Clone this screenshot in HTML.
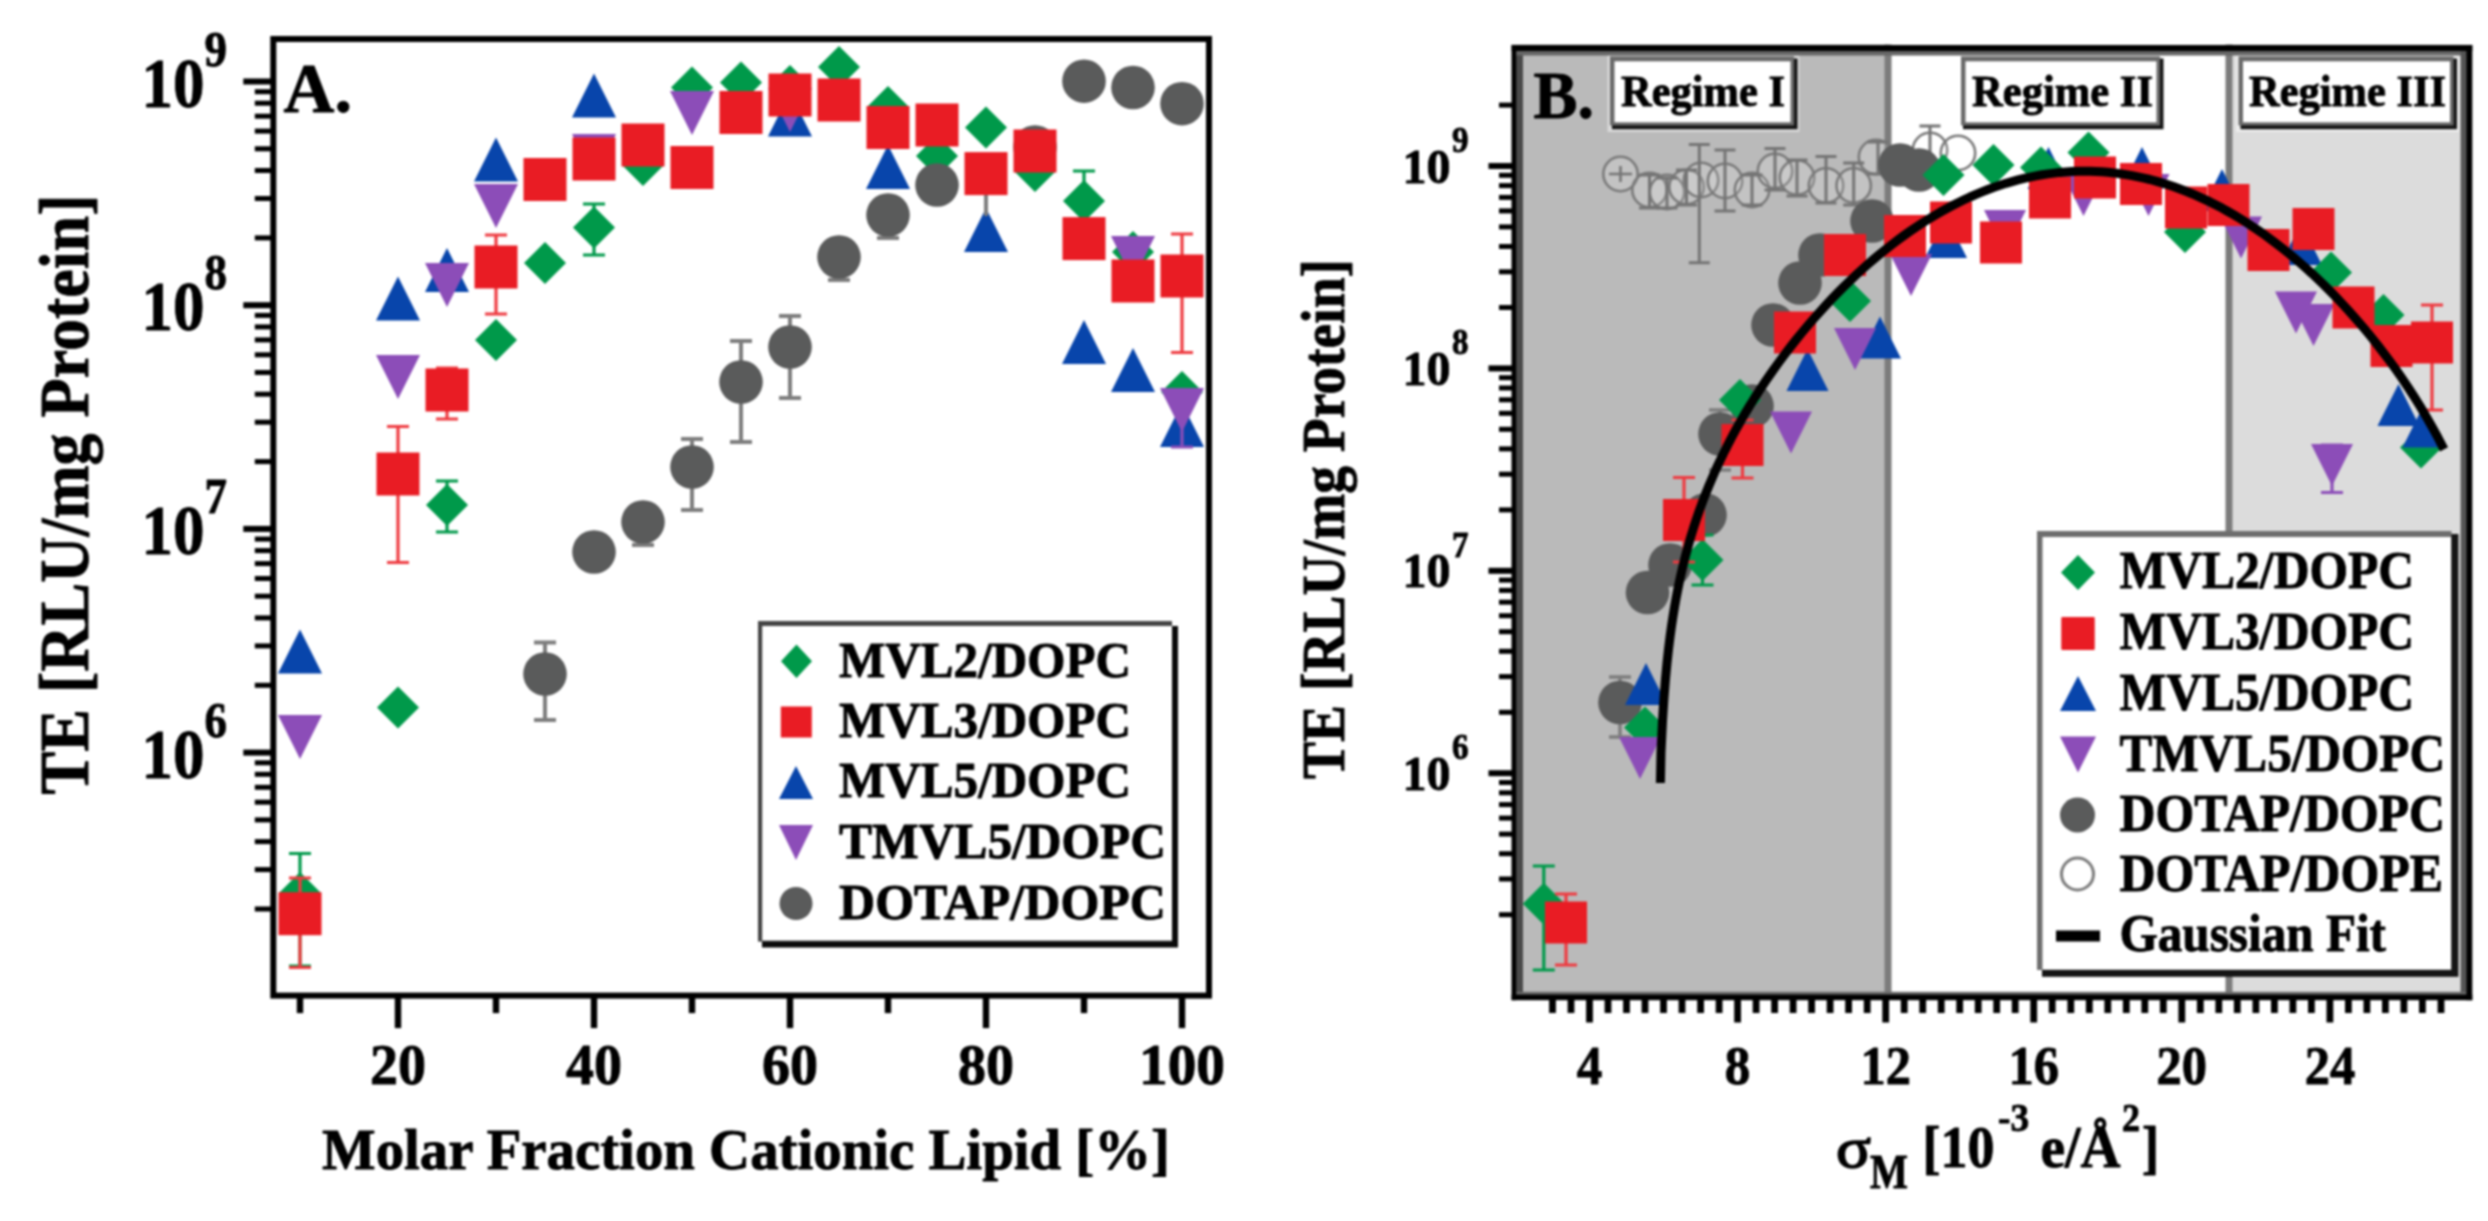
<!DOCTYPE html>
<html lang="en">
<head>
<meta charset="utf-8">
<title>Transfection efficiency of MVL/DOPC lipid mixtures</title>
<style>
html,body{margin:0;padding:0;background:#fff;}
body{width:2488px;height:1221px;overflow:hidden;}
svg{display:block;filter:blur(1.25px);}
svg text{font-family:"Liberation Serif","DejaVu Serif",serif;font-weight:bold;fill:#000;stroke:#000;stroke-width:0.9px;stroke-linejoin:round;}
</style>
</head>
<body>
<svg width="2488" height="1221" viewBox="0 0 2488 1221">
<rect x="0" y="0" width="2488" height="1221" fill="#fff"/>
<g id="plotA">
<rect x="254.8" y="906.5" width="18.5" height="5" fill="#000"/>
<rect x="254.8" y="867.1" width="18.5" height="5" fill="#000"/>
<rect x="254.8" y="839.1" width="18.5" height="5" fill="#000"/>
<rect x="254.8" y="817.4" width="18.5" height="5" fill="#000"/>
<rect x="254.8" y="799.7" width="18.5" height="5" fill="#000"/>
<rect x="254.8" y="784.8" width="18.5" height="5" fill="#000"/>
<rect x="254.8" y="771.8" width="18.5" height="5" fill="#000"/>
<rect x="254.8" y="760.3" width="18.5" height="5" fill="#000"/>
<rect x="243.3" y="749.6" width="30" height="6" fill="#000"/>
<rect x="254.8" y="682.8" width="18.5" height="5" fill="#000"/>
<rect x="254.8" y="643.4" width="18.5" height="5" fill="#000"/>
<rect x="254.8" y="615.4" width="18.5" height="5" fill="#000"/>
<rect x="254.8" y="593.7" width="18.5" height="5" fill="#000"/>
<rect x="254.8" y="576" width="18.5" height="5" fill="#000"/>
<rect x="254.8" y="561.1" width="18.5" height="5" fill="#000"/>
<rect x="254.8" y="548.1" width="18.5" height="5" fill="#000"/>
<rect x="254.8" y="536.6" width="18.5" height="5" fill="#000"/>
<rect x="243.3" y="525.9" width="30" height="6" fill="#000"/>
<rect x="254.8" y="459.1" width="18.5" height="5" fill="#000"/>
<rect x="254.8" y="419.7" width="18.5" height="5" fill="#000"/>
<rect x="254.8" y="391.7" width="18.5" height="5" fill="#000"/>
<rect x="254.8" y="370" width="18.5" height="5" fill="#000"/>
<rect x="254.8" y="352.3" width="18.5" height="5" fill="#000"/>
<rect x="254.8" y="337.4" width="18.5" height="5" fill="#000"/>
<rect x="254.8" y="324.4" width="18.5" height="5" fill="#000"/>
<rect x="254.8" y="312.9" width="18.5" height="5" fill="#000"/>
<rect x="243.3" y="302.2" width="30" height="6" fill="#000"/>
<rect x="254.8" y="235.4" width="18.5" height="5" fill="#000"/>
<rect x="254.8" y="196" width="18.5" height="5" fill="#000"/>
<rect x="254.8" y="168" width="18.5" height="5" fill="#000"/>
<rect x="254.8" y="146.3" width="18.5" height="5" fill="#000"/>
<rect x="254.8" y="128.6" width="18.5" height="5" fill="#000"/>
<rect x="254.8" y="113.7" width="18.5" height="5" fill="#000"/>
<rect x="254.8" y="100.7" width="18.5" height="5" fill="#000"/>
<rect x="254.8" y="89.2" width="18.5" height="5" fill="#000"/>
<rect x="243.3" y="78.5" width="30" height="6" fill="#000"/>
<rect x="296.8" y="995.6" width="6.4" height="17.5" fill="#000"/>
<rect x="394.8" y="995.6" width="6.4" height="32.5" fill="#000"/>
<rect x="492.8" y="995.6" width="6.4" height="17.5" fill="#000"/>
<rect x="590.8" y="995.6" width="6.4" height="32.5" fill="#000"/>
<rect x="688.8" y="995.6" width="6.4" height="17.5" fill="#000"/>
<rect x="786.8" y="995.6" width="6.4" height="32.5" fill="#000"/>
<rect x="884.8" y="995.6" width="6.4" height="17.5" fill="#000"/>
<rect x="982.8" y="995.6" width="6.4" height="32.5" fill="#000"/>
<rect x="1080.8" y="995.6" width="6.4" height="17.5" fill="#000"/>
<rect x="1178.8" y="995.6" width="6.4" height="32.5" fill="#000"/>
</g>
<g id="dataA">
<path d="M300 853.5V966M289 853.5H311M289 966H311" stroke="#00994a" stroke-width="3.2" fill="none"/>
<path d="M447 481V532M436 481H458M436 532H458" stroke="#00994a" stroke-width="3.2" fill="none"/>
<path d="M594 204V255M583 204H605M583 255H605" stroke="#00994a" stroke-width="3.2" fill="none"/>
<path d="M1084 171V231M1073 171H1095M1073 231H1095" stroke="#00994a" stroke-width="3.2" fill="none"/>
<polygon points="300,872 321,893 300,914 279,893" fill="#00994a"/>
<polygon points="398,686.5 419,707.5 398,728.5 377,707.5" fill="#00994a"/>
<polygon points="447,484 468,505 447,526 426,505" fill="#00994a"/>
<polygon points="496,319 517,340 496,361 475,340" fill="#00994a"/>
<polygon points="545,242 566,263 545,284 524,263" fill="#00994a"/>
<polygon points="594,206.5 615,227.5 594,248.5 573,227.5" fill="#00994a"/>
<polygon points="643,144 664,165 643,186 622,165" fill="#00994a"/>
<polygon points="692,66.5 713,87.5 692,108.5 671,87.5" fill="#00994a"/>
<polygon points="741,61.5 762,82.5 741,103.5 720,82.5" fill="#00994a"/>
<polygon points="790,65 811,86 790,107 769,86" fill="#00994a"/>
<polygon points="839,46 860,67 839,88 818,67" fill="#00994a"/>
<polygon points="888,86 909,107 888,128 867,107" fill="#00994a"/>
<polygon points="937,135 958,156 937,177 916,156" fill="#00994a"/>
<polygon points="986,106.4 1007,127.4 986,148.4 965,127.4" fill="#00994a"/>
<polygon points="1035,150 1056,171 1035,192 1014,171" fill="#00994a"/>
<polygon points="1084,180 1105,201 1084,222 1063,201" fill="#00994a"/>
<polygon points="1133,231 1154,252 1133,273 1112,252" fill="#00994a"/>
<polygon points="1182,371 1203,392 1182,413 1161,392" fill="#00994a"/>
<polygon points="300,629.5 322,673.5 278,673.5" fill="#0845ab"/>
<polygon points="398,276.5 420,320.5 376,320.5" fill="#0845ab"/>
<polygon points="447,248 469,292 425,292" fill="#0845ab"/>
<polygon points="496,137.5 518,181.5 474,181.5" fill="#0845ab"/>
<polygon points="594,73.5 616,117.5 572,117.5" fill="#0845ab"/>
<polygon points="790,92.5 812,136.5 768,136.5" fill="#0845ab"/>
<polygon points="888,145 910,189 866,189" fill="#0845ab"/>
<polygon points="986,208 1008,252 964,252" fill="#0845ab"/>
<polygon points="1084,320 1106,364 1062,364" fill="#0845ab"/>
<polygon points="1133,348 1155,392 1111,392" fill="#0845ab"/>
<polygon points="1182,403 1204,447 1160,447" fill="#0845ab"/>
<path d="M1182 390V447M1171 390H1193M1171 447H1193" stroke="#8c4db8" stroke-width="3.2" fill="none"/>
<polygon points="278,715 322,715 300,759" fill="#8c4db8"/>
<polygon points="376,355 420,355 398,399" fill="#8c4db8"/>
<polygon points="425,263 469,263 447,307" fill="#8c4db8"/>
<polygon points="474,184 518,184 496,228" fill="#8c4db8"/>
<polygon points="572,134 616,134 594,178" fill="#8c4db8"/>
<polygon points="670,91 714,91 692,135" fill="#8c4db8"/>
<polygon points="768,88 812,88 790,132" fill="#8c4db8"/>
<polygon points="1111,236 1155,236 1133,280" fill="#8c4db8"/>
<polygon points="1160,388 1204,388 1182,432" fill="#8c4db8"/>
<path d="M545 642.5V720M534 642.5H556M534 720H556" stroke="#7d7d7d" stroke-width="4" fill="none"/>
<path d="M643 505V545M632 505H654M632 545H654" stroke="#7d7d7d" stroke-width="4" fill="none"/>
<path d="M692 439V510M681 439H703M681 510H703" stroke="#7d7d7d" stroke-width="4" fill="none"/>
<path d="M741 341V442M730 341H752M730 442H752" stroke="#7d7d7d" stroke-width="4" fill="none"/>
<path d="M790 316V398M779 316H801M779 398H801" stroke="#7d7d7d" stroke-width="4" fill="none"/>
<path d="M839 240V280M828 240H850M828 280H850" stroke="#7d7d7d" stroke-width="4" fill="none"/>
<path d="M888 198V238M877 198H899M877 238H899" stroke="#7d7d7d" stroke-width="4" fill="none"/>
<rect x="984" y="190" width="4" height="26" fill="#7d7d7d"/>
<circle cx="545" cy="674" r="21.8" fill="#5a5b5b"/>
<circle cx="594" cy="552" r="21.8" fill="#5a5b5b"/>
<circle cx="643" cy="522" r="21.8" fill="#5a5b5b"/>
<circle cx="692" cy="467" r="21.8" fill="#5a5b5b"/>
<circle cx="741" cy="382" r="21.8" fill="#5a5b5b"/>
<circle cx="790" cy="347" r="21.8" fill="#5a5b5b"/>
<circle cx="839" cy="257" r="21.8" fill="#5a5b5b"/>
<circle cx="888" cy="215" r="21.8" fill="#5a5b5b"/>
<circle cx="937" cy="185" r="21.8" fill="#5a5b5b"/>
<circle cx="1035" cy="147" r="21.8" fill="#5a5b5b"/>
<circle cx="1084" cy="81.2" r="21.8" fill="#5a5b5b"/>
<circle cx="1133" cy="87.5" r="21.8" fill="#5a5b5b"/>
<circle cx="1182" cy="103.7" r="21.8" fill="#5a5b5b"/>
<path d="M300 878V967.5M289 878H311M289 967.5H311" stroke="#ee3a40" stroke-width="3.2" fill="none"/>
<path d="M398 426.5V562.5M387 426.5H409M387 562.5H409" stroke="#ee3a40" stroke-width="3.2" fill="none"/>
<path d="M447 368V419M436 368H458M436 419H458" stroke="#ee3a40" stroke-width="3.2" fill="none"/>
<path d="M496 235V314M485 235H507M485 314H507" stroke="#ee3a40" stroke-width="3.2" fill="none"/>
<path d="M1182 234V352.5M1171 234H1193M1171 352.5H1193" stroke="#ee3a40" stroke-width="3.2" fill="none"/>
<rect x="278.5" y="892.2" width="43" height="43" fill="#e91c24"/>
<rect x="376.5" y="452.5" width="43" height="43" fill="#e91c24"/>
<rect x="425.5" y="368.5" width="43" height="43" fill="#e91c24"/>
<rect x="474.5" y="245.5" width="43" height="43" fill="#e91c24"/>
<rect x="523.5" y="158" width="43" height="43" fill="#e91c24"/>
<rect x="572.5" y="137.5" width="43" height="43" fill="#e91c24"/>
<rect x="621.5" y="123.5" width="43" height="43" fill="#e91c24"/>
<rect x="670.5" y="146" width="43" height="43" fill="#e91c24"/>
<rect x="719.5" y="91" width="43" height="43" fill="#e91c24"/>
<rect x="768.5" y="73.5" width="43" height="43" fill="#e91c24"/>
<rect x="817.5" y="78.5" width="43" height="43" fill="#e91c24"/>
<rect x="866.5" y="106" width="43" height="43" fill="#e91c24"/>
<rect x="915.5" y="103.5" width="43" height="43" fill="#e91c24"/>
<rect x="964.5" y="152.1" width="43" height="43" fill="#e91c24"/>
<rect x="1013.5" y="129.5" width="43" height="43" fill="#e91c24"/>
<rect x="1062.5" y="217.1" width="43" height="43" fill="#e91c24"/>
<rect x="1111.5" y="259.5" width="43" height="43" fill="#e91c24"/>
<rect x="1160.5" y="254.5" width="43" height="43" fill="#e91c24"/>
</g>
<rect x="273.3" y="39" width="935.7" height="956.6" fill="none" stroke="#000" stroke-width="6"/>
<g id="legendA">
<rect x="762" y="626" width="416" height="321.5" fill="#0a0a0a"/>
<rect x="758" y="621" width="414" height="320.6" fill="#444"/>
<rect x="762.2" y="626" width="409.8" height="314.6" fill="#fff"/>
<polygon points="796.5,644.5 812,661.3 796.5,678 781,661.3" fill="#00994a"/>
<rect x="780.8" y="706.5" width="31" height="31" fill="#e91c24"/>
<polygon points="796,766 813,799 779,799" fill="#0845ab"/>
<polygon points="779,825 813,825 796,860" fill="#8c4db8"/>
<circle cx="796" cy="903.5" r="16.5" fill="#5a5b5b"/>
<text x="839" y="677.4" font-size="51" text-anchor="start" textLength="292" lengthAdjust="spacingAndGlyphs">MVL2/DOPC</text>
<text x="839" y="737.4" font-size="51" text-anchor="start" textLength="292" lengthAdjust="spacingAndGlyphs">MVL3/DOPC</text>
<text x="839" y="797.4" font-size="51" text-anchor="start" textLength="292" lengthAdjust="spacingAndGlyphs">MVL5/DOPC</text>
<text x="839" y="858.4" font-size="51" text-anchor="start" textLength="327" lengthAdjust="spacingAndGlyphs">TMVL5/DOPC</text>
<text x="839" y="919.4" font-size="51" text-anchor="start" textLength="327" lengthAdjust="spacingAndGlyphs">DOTAP/DOPC</text>
</g>
<g id="labelsA">
<text x="283.5" y="112" font-size="70.5" text-anchor="start" textLength="68.5" lengthAdjust="spacingAndGlyphs">A.</text>
<text x="141.5" y="106.5" font-size="69.5" text-anchor="start" textLength="63" lengthAdjust="spacingAndGlyphs">10</text>
<text x="204.5" y="65.5" font-size="50.5" text-anchor="start" textLength="22.5" lengthAdjust="spacingAndGlyphs">9</text>
<text x="141.5" y="330.2" font-size="69.5" text-anchor="start" textLength="63" lengthAdjust="spacingAndGlyphs">10</text>
<text x="204.5" y="289.2" font-size="50.5" text-anchor="start" textLength="22.5" lengthAdjust="spacingAndGlyphs">8</text>
<text x="141.5" y="553.9" font-size="69.5" text-anchor="start" textLength="63" lengthAdjust="spacingAndGlyphs">10</text>
<text x="204.5" y="512.9" font-size="50.5" text-anchor="start" textLength="22.5" lengthAdjust="spacingAndGlyphs">7</text>
<text x="141.5" y="777.6" font-size="69.5" text-anchor="start" textLength="63" lengthAdjust="spacingAndGlyphs">10</text>
<text x="204.5" y="736.6" font-size="50.5" text-anchor="start" textLength="22.5" lengthAdjust="spacingAndGlyphs">6</text>
<text x="398" y="1084" font-size="57" text-anchor="middle" textLength="56" lengthAdjust="spacingAndGlyphs">20</text>
<text x="594" y="1084" font-size="57" text-anchor="middle" textLength="56" lengthAdjust="spacingAndGlyphs">40</text>
<text x="790" y="1084" font-size="57" text-anchor="middle" textLength="56" lengthAdjust="spacingAndGlyphs">60</text>
<text x="986" y="1084" font-size="57" text-anchor="middle" textLength="56" lengthAdjust="spacingAndGlyphs">80</text>
<text x="1182" y="1084" font-size="57" text-anchor="middle" textLength="86" lengthAdjust="spacingAndGlyphs">100</text>
<text x="322" y="1169" font-size="57" text-anchor="start" textLength="848" lengthAdjust="spacingAndGlyphs">Molar Fraction Cationic Lipid [%]</text>
<text transform="translate(88 794.5) rotate(-90)" font-size="69" textLength="600" lengthAdjust="spacingAndGlyphs">TE [RLU/mg Protein]</text>
</g>
<g id="plotB">
<rect x="1511.5" y="44.5" width="960.5" height="955.5" fill="#fff"/>
<rect x="1511.5" y="44.5" width="376.5" height="955.5" fill="#bababa"/>
<rect x="2229" y="44.5" width="243" height="955.5" fill="#dcdcdc"/>
<rect x="1884.5" y="44.5" width="7" height="955.5" fill="#7c7c7c"/>
<rect x="2225.5" y="44.5" width="7" height="955.5" fill="#7c7c7c"/>
<rect x="1499" y="912.2" width="13" height="5" fill="#000"/>
<rect x="1499" y="876.5" width="13" height="5" fill="#000"/>
<rect x="1499" y="851.2" width="13" height="5" fill="#000"/>
<rect x="1499" y="831.6" width="13" height="5" fill="#000"/>
<rect x="1499" y="815.6" width="13" height="5" fill="#000"/>
<rect x="1499" y="802.1" width="13" height="5" fill="#000"/>
<rect x="1499" y="790.3" width="13" height="5" fill="#000"/>
<rect x="1499" y="780" width="13" height="5" fill="#000"/>
<rect x="1488.5" y="770.2" width="25" height="6" fill="#000"/>
<rect x="1499" y="709.8" width="13" height="5" fill="#000"/>
<rect x="1499" y="674.1" width="13" height="5" fill="#000"/>
<rect x="1499" y="648.8" width="13" height="5" fill="#000"/>
<rect x="1499" y="629.2" width="13" height="5" fill="#000"/>
<rect x="1499" y="613.2" width="13" height="5" fill="#000"/>
<rect x="1499" y="599.7" width="13" height="5" fill="#000"/>
<rect x="1499" y="587.9" width="13" height="5" fill="#000"/>
<rect x="1499" y="577.6" width="13" height="5" fill="#000"/>
<rect x="1488.5" y="567.8" width="25" height="6" fill="#000"/>
<rect x="1499" y="507.4" width="13" height="5" fill="#000"/>
<rect x="1499" y="471.7" width="13" height="5" fill="#000"/>
<rect x="1499" y="446.4" width="13" height="5" fill="#000"/>
<rect x="1499" y="426.8" width="13" height="5" fill="#000"/>
<rect x="1499" y="410.8" width="13" height="5" fill="#000"/>
<rect x="1499" y="397.3" width="13" height="5" fill="#000"/>
<rect x="1499" y="385.5" width="13" height="5" fill="#000"/>
<rect x="1499" y="375.2" width="13" height="5" fill="#000"/>
<rect x="1488.5" y="365.4" width="25" height="6" fill="#000"/>
<rect x="1499" y="305" width="13" height="5" fill="#000"/>
<rect x="1499" y="269.3" width="13" height="5" fill="#000"/>
<rect x="1499" y="244" width="13" height="5" fill="#000"/>
<rect x="1499" y="224.4" width="13" height="5" fill="#000"/>
<rect x="1499" y="208.4" width="13" height="5" fill="#000"/>
<rect x="1499" y="194.9" width="13" height="5" fill="#000"/>
<rect x="1499" y="183.1" width="13" height="5" fill="#000"/>
<rect x="1499" y="172.8" width="13" height="5" fill="#000"/>
<rect x="1488.5" y="163" width="25" height="6" fill="#000"/>
<rect x="1499" y="102.6" width="13" height="5" fill="#000"/>
<rect x="1549.1" y="999" width="6.8" height="14" fill="#000"/>
<rect x="1567.6" y="999" width="6.8" height="14" fill="#000"/>
<rect x="1586.1" y="999" width="6.8" height="23.5" fill="#000"/>
<rect x="1604.6" y="999" width="6.8" height="14" fill="#000"/>
<rect x="1623.1" y="999" width="6.8" height="14" fill="#000"/>
<rect x="1641.6" y="999" width="6.8" height="14" fill="#000"/>
<rect x="1660.1" y="999" width="6.8" height="14" fill="#000"/>
<rect x="1678.6" y="999" width="6.8" height="14" fill="#000"/>
<rect x="1697.2" y="999" width="6.8" height="14" fill="#000"/>
<rect x="1715.7" y="999" width="6.8" height="14" fill="#000"/>
<rect x="1734.2" y="999" width="6.8" height="23.5" fill="#000"/>
<rect x="1752.7" y="999" width="6.8" height="14" fill="#000"/>
<rect x="1771.2" y="999" width="6.8" height="14" fill="#000"/>
<rect x="1789.7" y="999" width="6.8" height="14" fill="#000"/>
<rect x="1808.2" y="999" width="6.8" height="14" fill="#000"/>
<rect x="1826.7" y="999" width="6.8" height="14" fill="#000"/>
<rect x="1845.2" y="999" width="6.8" height="14" fill="#000"/>
<rect x="1863.8" y="999" width="6.8" height="14" fill="#000"/>
<rect x="1882.3" y="999" width="6.8" height="23.5" fill="#000"/>
<rect x="1900.8" y="999" width="6.8" height="14" fill="#000"/>
<rect x="1919.3" y="999" width="6.8" height="14" fill="#000"/>
<rect x="1937.8" y="999" width="6.8" height="14" fill="#000"/>
<rect x="1956.3" y="999" width="6.8" height="14" fill="#000"/>
<rect x="1974.8" y="999" width="6.8" height="14" fill="#000"/>
<rect x="1993.3" y="999" width="6.8" height="14" fill="#000"/>
<rect x="2011.8" y="999" width="6.8" height="14" fill="#000"/>
<rect x="2030.3" y="999" width="6.8" height="23.5" fill="#000"/>
<rect x="2048.8" y="999" width="6.8" height="14" fill="#000"/>
<rect x="2067.4" y="999" width="6.8" height="14" fill="#000"/>
<rect x="2085.9" y="999" width="6.8" height="14" fill="#000"/>
<rect x="2104.4" y="999" width="6.8" height="14" fill="#000"/>
<rect x="2122.9" y="999" width="6.8" height="14" fill="#000"/>
<rect x="2141.4" y="999" width="6.8" height="14" fill="#000"/>
<rect x="2159.9" y="999" width="6.8" height="14" fill="#000"/>
<rect x="2178.4" y="999" width="6.8" height="23.5" fill="#000"/>
<rect x="2196.9" y="999" width="6.8" height="14" fill="#000"/>
<rect x="2215.4" y="999" width="6.8" height="14" fill="#000"/>
<rect x="2233.9" y="999" width="6.8" height="14" fill="#000"/>
<rect x="2252.5" y="999" width="6.8" height="14" fill="#000"/>
<rect x="2271" y="999" width="6.8" height="14" fill="#000"/>
<rect x="2289.5" y="999" width="6.8" height="14" fill="#000"/>
<rect x="2308" y="999" width="6.8" height="14" fill="#000"/>
<rect x="2326.5" y="999" width="6.8" height="23.5" fill="#000"/>
<rect x="2345" y="999" width="6.8" height="14" fill="#000"/>
<rect x="2363.5" y="999" width="6.8" height="14" fill="#000"/>
<rect x="2382" y="999" width="6.8" height="14" fill="#000"/>
<rect x="2400.5" y="999" width="6.8" height="14" fill="#000"/>
<rect x="2419" y="999" width="6.8" height="14" fill="#000"/>
<rect x="2437.6" y="999" width="6.8" height="14" fill="#000"/>
</g>
<g id="dataB">
<circle cx="1620.5" cy="174" r="17.2" fill="rgba(255,255,255,0.13)" stroke="#7a7a7a" stroke-width="2.6"/>
<circle cx="1649.5" cy="190" r="17.2" fill="rgba(255,255,255,0.13)" stroke="#7a7a7a" stroke-width="2.6"/>
<circle cx="1667" cy="192" r="17.2" fill="rgba(255,255,255,0.13)" stroke="#7a7a7a" stroke-width="2.6"/>
<circle cx="1686.5" cy="187" r="17.2" fill="rgba(255,255,255,0.13)" stroke="#7a7a7a" stroke-width="2.6"/>
<circle cx="1701" cy="180" r="17.2" fill="rgba(255,255,255,0.13)" stroke="#7a7a7a" stroke-width="2.6"/>
<circle cx="1725" cy="181" r="17.2" fill="rgba(255,255,255,0.13)" stroke="#7a7a7a" stroke-width="2.6"/>
<circle cx="1752" cy="190" r="17.2" fill="rgba(255,255,255,0.13)" stroke="#7a7a7a" stroke-width="2.6"/>
<circle cx="1775" cy="171" r="17.2" fill="rgba(255,255,255,0.13)" stroke="#7a7a7a" stroke-width="2.6"/>
<circle cx="1797" cy="177.5" r="17.2" fill="rgba(255,255,255,0.13)" stroke="#7a7a7a" stroke-width="2.6"/>
<circle cx="1826" cy="185.5" r="17.2" fill="rgba(255,255,255,0.13)" stroke="#7a7a7a" stroke-width="2.6"/>
<circle cx="1853.7" cy="185.5" r="17.2" fill="rgba(255,255,255,0.13)" stroke="#7a7a7a" stroke-width="2.6"/>
<circle cx="1876" cy="157" r="17.2" fill="rgba(255,255,255,0.13)" stroke="#7a7a7a" stroke-width="2.6"/>
<circle cx="1930" cy="150" r="17.2" fill="rgba(255,255,255,0.13)" stroke="#7a7a7a" stroke-width="2.6"/>
<circle cx="1958" cy="153" r="17.2" fill="rgba(255,255,255,0.13)" stroke="#7a7a7a" stroke-width="2.6"/>
<path d="M1699.3 144.5V262.7M1688.8 144.5H1709.8M1688.8 262.7H1709.8" stroke="#747474" stroke-width="3" fill="none"/>
<path d="M1725 150V211M1714.5 150H1735.5M1714.5 211H1735.5" stroke="#747474" stroke-width="3" fill="none"/>
<path d="M1649.5 175V208M1639 175H1660M1639 208H1660" stroke="#747474" stroke-width="3" fill="none"/>
<path d="M1667 178V208M1656.5 178H1677.5M1656.5 208H1677.5" stroke="#747474" stroke-width="3" fill="none"/>
<path d="M1686.5 170V205M1676 170H1697M1676 205H1697" stroke="#747474" stroke-width="3" fill="none"/>
<path d="M1752 175V205M1741.5 175H1762.5M1741.5 205H1762.5" stroke="#747474" stroke-width="3" fill="none"/>
<path d="M1775 148.6V190M1764.5 148.6H1785.5M1764.5 190H1785.5" stroke="#747474" stroke-width="3" fill="none"/>
<path d="M1797 160V196M1786.5 160H1807.5M1786.5 196H1807.5" stroke="#747474" stroke-width="3" fill="none"/>
<path d="M1826 156.6V203M1815.5 156.6H1836.5M1815.5 203H1836.5" stroke="#747474" stroke-width="3" fill="none"/>
<path d="M1853.7 163V205M1843.2 163H1864.2M1843.2 205H1864.2" stroke="#747474" stroke-width="3" fill="none"/>
<path d="M1878 142V174M1867.5 142H1888.5M1867.5 174H1888.5" stroke="#747474" stroke-width="3" fill="none"/>
<path d="M1930 126V175M1919.5 126H1940.5M1919.5 175H1940.5" stroke="#747474" stroke-width="3" fill="none"/>
<path d="M1609 174H1632M1620.5 166V182" stroke="#747474" stroke-width="2.6" fill="none"/>
<path d="M1620 677V737M1609 677H1631M1609 737H1631" stroke="#7d7d7d" stroke-width="3.5" fill="none"/>
<path d="M1720 410V470M1709 410H1731M1709 470H1731" stroke="#7d7d7d" stroke-width="3.5" fill="none"/>
<circle cx="1620" cy="702.5" r="21.8" fill="#5a5b5b"/>
<circle cx="1647.5" cy="592.5" r="21.8" fill="#5a5b5b"/>
<circle cx="1670" cy="565" r="21.8" fill="#5a5b5b"/>
<circle cx="1705" cy="515" r="21.8" fill="#5a5b5b"/>
<circle cx="1720" cy="434" r="21.8" fill="#5a5b5b"/>
<circle cx="1752" cy="406" r="21.8" fill="#5a5b5b"/>
<circle cx="1773" cy="325" r="21.8" fill="#5a5b5b"/>
<circle cx="1800" cy="283" r="21.8" fill="#5a5b5b"/>
<circle cx="1820" cy="255" r="21.8" fill="#5a5b5b"/>
<circle cx="1872" cy="221" r="21.8" fill="#5a5b5b"/>
<circle cx="1900" cy="165" r="21.8" fill="#5a5b5b"/>
<circle cx="1919" cy="170" r="21.8" fill="#5a5b5b"/>
<polygon points="1646,663 1667,705 1625,705" fill="#0845ab"/>
<polygon points="1807.5,349 1828.5,391 1786.5,391" fill="#0845ab"/>
<polygon points="1880,316.5 1901,358.5 1859,358.5" fill="#0845ab"/>
<polygon points="1946,216 1967,258 1925,258" fill="#0845ab"/>
<polygon points="2048.5,147 2069.5,189 2027.5,189" fill="#0845ab"/>
<polygon points="2142,147 2163,189 2121,189" fill="#0845ab"/>
<polygon points="2222,169 2243,211 2201,211" fill="#0845ab"/>
<polygon points="2301,223 2322,265 2280,265" fill="#0845ab"/>
<polygon points="2398.5,384 2419.5,426 2377.5,426" fill="#0845ab"/>
<path d="M1543.8 866V970M1532.8 866H1554.8M1532.8 970H1554.8" stroke="#00994a" stroke-width="3.2" fill="none"/>
<path d="M1702.5 535V585M1691.5 535H1713.5M1691.5 585H1713.5" stroke="#00994a" stroke-width="3.2" fill="none"/>
<polygon points="1543.8,882.8 1564.8,903.8 1543.8,924.8 1522.8,903.8" fill="#00994a"/>
<polygon points="1645,706.5 1666,727.5 1645,748.5 1624,727.5" fill="#00994a"/>
<polygon points="1702.5,539 1723.5,560 1702.5,581 1681.5,560" fill="#00994a"/>
<polygon points="1740,379 1761,400 1740,421 1719,400" fill="#00994a"/>
<polygon points="1850,280 1871,301 1850,322 1829,301" fill="#00994a"/>
<polygon points="1943.5,154 1964.5,175 1943.5,196 1922.5,175" fill="#00994a"/>
<polygon points="1993.5,144 2014.5,165 1993.5,186 1972.5,165" fill="#00994a"/>
<polygon points="2041,146.5 2062,167.5 2041,188.5 2020,167.5" fill="#00994a"/>
<polygon points="2088.5,131.5 2109.5,152.5 2088.5,173.5 2067.5,152.5" fill="#00994a"/>
<polygon points="2185,211 2206,232 2185,253 2164,232" fill="#00994a"/>
<polygon points="2331,251.5 2352,272.5 2331,293.5 2310,272.5" fill="#00994a"/>
<polygon points="2383.5,294 2404.5,315 2383.5,336 2362.5,315" fill="#00994a"/>
<polygon points="2421,426.5 2442,447.5 2421,468.5 2400,447.5" fill="#00994a"/>
<polygon points="2423.5,405.5 2444.5,447.5 2402.5,447.5" fill="#0845ab"/>
<path d="M2332 445V492.5M2321 445H2343M2321 492.5H2343" stroke="#8c4db8" stroke-width="3.2" fill="none"/>
<polygon points="1619,737 1661,737 1640,779" fill="#8c4db8"/>
<polygon points="1770,411.5 1812,411.5 1791,453.5" fill="#8c4db8"/>
<polygon points="1834,328 1876,328 1855,370" fill="#8c4db8"/>
<polygon points="1890,254 1932,254 1911,296" fill="#8c4db8"/>
<polygon points="1984,210 2026,210 2005,252" fill="#8c4db8"/>
<polygon points="2062.5,174 2104.5,174 2083.5,216" fill="#8c4db8"/>
<polygon points="2127.5,174 2169.5,174 2148.5,216" fill="#8c4db8"/>
<polygon points="2220,216.5 2262,216.5 2241,258.5" fill="#8c4db8"/>
<polygon points="2275,291.5 2317,291.5 2296,333.5" fill="#8c4db8"/>
<polygon points="2292.5,304 2334.5,304 2313.5,346" fill="#8c4db8"/>
<polygon points="2311,444 2353,444 2332,486" fill="#8c4db8"/>
<path d="M1566 894V965M1555 894H1577M1555 965H1577" stroke="#ee3a40" stroke-width="3.2" fill="none"/>
<path d="M1684 477.5V562M1673 477.5H1695M1673 562H1695" stroke="#ee3a40" stroke-width="3.2" fill="none"/>
<path d="M1742.5 420V478M1731.5 420H1753.5M1731.5 478H1753.5" stroke="#ee3a40" stroke-width="3.2" fill="none"/>
<path d="M2432 305V410M2421 305H2443M2421 410H2443" stroke="#ee3a40" stroke-width="3.2" fill="none"/>
<rect x="1545" y="901.5" width="42" height="42" fill="#e91c24"/>
<rect x="1663" y="499" width="42" height="42" fill="#e91c24"/>
<rect x="1721.5" y="424" width="42" height="42" fill="#e91c24"/>
<rect x="1774" y="311.5" width="42" height="42" fill="#e91c24"/>
<rect x="1824" y="234" width="42" height="42" fill="#e91c24"/>
<rect x="1884" y="215" width="42" height="42" fill="#e91c24"/>
<rect x="1930" y="201.5" width="42" height="42" fill="#e91c24"/>
<rect x="1980" y="221.5" width="42" height="42" fill="#e91c24"/>
<rect x="2029" y="176.5" width="42" height="42" fill="#e91c24"/>
<rect x="2074" y="156.5" width="42" height="42" fill="#e91c24"/>
<rect x="2120" y="163" width="42" height="42" fill="#e91c24"/>
<rect x="2165" y="186.5" width="42" height="42" fill="#e91c24"/>
<rect x="2207.5" y="184" width="42" height="42" fill="#e91c24"/>
<rect x="2247.5" y="229" width="42" height="42" fill="#e91c24"/>
<rect x="2292.5" y="208" width="42" height="42" fill="#e91c24"/>
<rect x="2332.5" y="286.5" width="42" height="42" fill="#e91c24"/>
<rect x="2370.5" y="325" width="42" height="42" fill="#e91c24"/>
<rect x="2411" y="321.5" width="42" height="42" fill="#e91c24"/>
</g>
<path d="M1660.4 783L1661 752.2L1662.5 721.1L1664 697.8L1665.5 678.9L1667 663L1668.5 649.3L1670 637.1L1671.5 626.2L1673 616.3L1674.5 607.2L1676 598.8L1677.5 590.9L1679 583.5L1680.5 576.5L1682 569.9L1683.5 563.7L1685 557.7L1686.5 552L1688 546.5L1689.5 541.2L1691 536.1L1692.5 531.2L1694 526.4L1695.5 521.8L1697 517.4L1698.5 513L1700 508.8L1701.5 504.7L1703 500.7L1704.5 496.7L1706 492.9L1707.5 489.2L1709 485.5L1710.5 481.9L1712 478.4L1713.5 474.9L1715 471.5L1716.5 468.2L1718 465L1719.5 461.7L1721 458.6L1722.5 455.5L1724 452.4L1725.5 449.4L1727 446.4L1728.5 443.5L1730 440.6L1731.5 437.7L1733 434.9L1734.5 432.1L1736 429.4L1737.5 426.7L1739 424L1740.5 421.4L1742 418.8L1743.5 416.2L1745 413.6L1746.5 411.1L1748 408.6L1749.5 406.1L1751 403.7L1752.5 401.3L1754 398.9L1755.5 396.5L1757 394.2L1758.5 391.8L1760 389.5L1766 380.5L1772 371.9L1778 363.5L1784 355.4L1790 347.5L1796 339.9L1802 332.5L1808 325.4L1814 318.4L1820 311.7L1826 305.1L1832 298.7L1838 292.5L1844 286.5L1850 280.7L1856 275L1862 269.5L1868 264.2L1874 259L1880 254L1886 249.2L1892 244.5L1898 239.9L1904 235.5L1910 231.3L1916 227.2L1922 223.3L1928 219.5L1934 215.8L1940 212.3L1946 209L1952 205.8L1958 202.7L1964 199.8L1970 197L1976 194.4L1982 191.9L1988 189.5L1994 187.3L2000 185.3L2006 183.3L2012 181.6L2018 179.9L2024 178.4L2030 177.1L2036 175.9L2042 174.8L2048 173.9L2054 173.1L2060 172.4L2066 171.9L2072 171.6L2078 171.3L2084 171.2L2090 171.3L2096 171.5L2102 171.8L2108 172.3L2114 172.9L2120 173.7L2126 174.6L2132 175.6L2138 176.8L2144 178.1L2150 179.5L2156 181.1L2162 182.9L2168 184.8L2174 186.8L2180 189L2186 191.3L2192 193.7L2198 196.3L2204 199.1L2210 201.9L2216 205L2222 208.1L2228 211.5L2234 214.9L2240 218.5L2246 222.3L2252 226.2L2258 230.2L2264 234.4L2270 238.8L2276 243.3L2282 248L2288 252.8L2294 257.8L2300 262.9L2306 268.2L2312 273.6L2318 279.3L2324 285L2330 291L2336 297.2L2342 303.5L2348 310L2354 316.7L2360 323.6L2366 330.7L2372 338L2378 345.6L2384 353.4L2390 361.4L2396 369.7L2402 378.3L2408 387.3L2414 396.5L2420 406.1L2426 416.2L2432 426.7L2438 437.7L2444 449.4" fill="none" stroke="#000" stroke-width="9" stroke-linecap="butt" stroke-linejoin="round"/>
<rect x="1607.5" y="54" width="192" height="78" fill="#fff" opacity="0.45"/>
<rect x="1612" y="58.5" width="185.5" height="70.7" fill="#141414"/>
<rect x="1610" y="56.4" width="184" height="69" fill="#6a6a6a"/>
<rect x="1614.5" y="61.3" width="176" height="61" fill="#fff"/>
<text x="1621" y="106.2" font-size="43.5" text-anchor="start" textLength="164" lengthAdjust="spacingAndGlyphs">Regime I</text>
<rect x="1958.5" y="54" width="207" height="78" fill="#fff" opacity="0.45"/>
<rect x="1963" y="58.5" width="200.5" height="70.7" fill="#141414"/>
<rect x="1961" y="56.4" width="199" height="69" fill="#6a6a6a"/>
<rect x="1965.5" y="61.3" width="191" height="61" fill="#fff"/>
<text x="1972" y="106.2" font-size="43.5" text-anchor="start" textLength="181" lengthAdjust="spacingAndGlyphs">Regime II</text>
<rect x="2236" y="54" width="223" height="78" fill="#fff" opacity="0.45"/>
<rect x="2240.5" y="58.5" width="216.5" height="70.7" fill="#141414"/>
<rect x="2238.5" y="56.4" width="215" height="69" fill="#6a6a6a"/>
<rect x="2243" y="61.3" width="207" height="61" fill="#fff"/>
<text x="2249" y="106.2" font-size="43.5" text-anchor="start" textLength="197" lengthAdjust="spacingAndGlyphs">Regime III</text>
<g id="legendB">
<rect x="2042" y="534" width="416.4" height="442.8" fill="#151515"/>
<rect x="2037" y="531" width="414.5" height="439" fill="#6e6e6e"/>
<rect x="2042.5" y="537" width="408.5" height="432.6" fill="#fff"/>
<polygon points="2078,555 2095,572.5 2078,590 2061,572.5" fill="#00994a"/>
<rect x="2061.5" y="617" width="33" height="33" fill="#e91c24"/>
<rect x="2061.5" y="618.5" width="33" height="30" fill="#e91c24"/>
<polygon points="2078,676 2096,711 2060,711" fill="#0845ab"/>
<polygon points="2060,736.5 2096,736.5 2078,772.5" fill="#8c4db8"/>
<circle cx="2077.5" cy="815" r="17.5" fill="#5a5b5b"/>
<circle cx="2077.5" cy="874" r="16" fill="none" stroke="#7a7a7a" stroke-width="3"/>
<rect x="2056" y="930.5" width="44" height="11" fill="#000"/>
<text x="2119.5" y="587.7" font-size="52" text-anchor="start" textLength="294.5" lengthAdjust="spacingAndGlyphs">MVL2/DOPC</text>
<text x="2119.5" y="648.7" font-size="52" text-anchor="start" textLength="294.5" lengthAdjust="spacingAndGlyphs">MVL3/DOPC</text>
<text x="2119.5" y="709.7" font-size="52" text-anchor="start" textLength="294.5" lengthAdjust="spacingAndGlyphs">MVL5/DOPC</text>
<text x="2119.5" y="770.7" font-size="52" text-anchor="start" textLength="325.5" lengthAdjust="spacingAndGlyphs">TMVL5/DOPC</text>
<text x="2119.5" y="830.7" font-size="52" text-anchor="start" textLength="325.5" lengthAdjust="spacingAndGlyphs">DOTAP/DOPC</text>
<text x="2119.5" y="890.7" font-size="52" text-anchor="start" textLength="323.5" lengthAdjust="spacingAndGlyphs">DOTAP/DOPE</text>
<text x="2119.5" y="950.7" font-size="52" text-anchor="start" textLength="266.5" lengthAdjust="spacingAndGlyphs">Gaussian Fit</text>
</g>
<rect x="1516" y="50.5" width="7" height="943.5" fill="#4a4a4a"/>
<rect x="1516" y="50.5" width="950.5" height="5" fill="#666"/>
<rect x="2460.6" y="50.5" width="6" height="943.5" fill="#555"/>
<rect x="1516" y="991.8" width="950.5" height="3.2" fill="#666"/>
<rect x="1511.6" y="45" width="960.7" height="6" fill="#000"/>
<rect x="1511.6" y="45" width="4.6" height="955.2" fill="#000"/>
<rect x="2466.3" y="45" width="6" height="955.2" fill="#000"/>
<rect x="1511.6" y="994.6" width="960.7" height="5.6" fill="#000"/>
<g id="labelsB">
<text x="1533.5" y="118" font-size="68" text-anchor="start" textLength="60.5" lengthAdjust="spacingAndGlyphs">B.</text>
<text x="1402.5" y="182.5" font-size="49.5" text-anchor="start" textLength="48" lengthAdjust="spacingAndGlyphs">10</text>
<text x="1452" y="152" font-size="36" text-anchor="start" textLength="16.5" lengthAdjust="spacingAndGlyphs">9</text>
<text x="1402.5" y="384.9" font-size="49.5" text-anchor="start" textLength="48" lengthAdjust="spacingAndGlyphs">10</text>
<text x="1452" y="354.4" font-size="36" text-anchor="start" textLength="16.5" lengthAdjust="spacingAndGlyphs">8</text>
<text x="1402.5" y="587.3" font-size="49.5" text-anchor="start" textLength="48" lengthAdjust="spacingAndGlyphs">10</text>
<text x="1452" y="556.8" font-size="36" text-anchor="start" textLength="16.5" lengthAdjust="spacingAndGlyphs">7</text>
<text x="1402.5" y="789.7" font-size="49.5" text-anchor="start" textLength="48" lengthAdjust="spacingAndGlyphs">10</text>
<text x="1452" y="759.2" font-size="36" text-anchor="start" textLength="16.5" lengthAdjust="spacingAndGlyphs">6</text>
<text x="1589.5" y="1084" font-size="55" text-anchor="middle" textLength="25.5" lengthAdjust="spacingAndGlyphs">4</text>
<text x="1737.6" y="1084" font-size="55" text-anchor="middle" textLength="25.5" lengthAdjust="spacingAndGlyphs">8</text>
<text x="1885.7" y="1084" font-size="55" text-anchor="middle" textLength="50.5" lengthAdjust="spacingAndGlyphs">12</text>
<text x="2033.7" y="1084" font-size="55" text-anchor="middle" textLength="50.5" lengthAdjust="spacingAndGlyphs">16</text>
<text x="2181.8" y="1084" font-size="55" text-anchor="middle" textLength="50.5" lengthAdjust="spacingAndGlyphs">20</text>
<text x="2329.9" y="1084" font-size="55" text-anchor="middle" textLength="50.5" lengthAdjust="spacingAndGlyphs">24</text>
<text transform="translate(1344 779) rotate(-90)" font-size="60.5" textLength="520" lengthAdjust="spacingAndGlyphs">TE [RLU/mg Protein]</text>
<text x="1836" y="1167" font-size="58" text-anchor="start" textLength="35" lengthAdjust="spacingAndGlyphs" style="font-weight:normal;stroke-width:1.6px">σ</text>
<text x="1870" y="1188" font-size="49" text-anchor="start" textLength="38" lengthAdjust="spacingAndGlyphs">M</text>
<text x="1922.5" y="1166.7" font-size="58.5" text-anchor="start" textLength="72" lengthAdjust="spacingAndGlyphs">[10</text>
<text x="1998" y="1131.4" font-size="39.5" text-anchor="start" textLength="31" lengthAdjust="spacingAndGlyphs">-3</text>
<text x="2040.5" y="1166.7" font-size="58.5" text-anchor="start" textLength="80" lengthAdjust="spacingAndGlyphs">e/Å</text>
<text x="2122" y="1131" font-size="39.5" text-anchor="start" textLength="18" lengthAdjust="spacingAndGlyphs">2</text>
<text x="2142" y="1166.7" font-size="58.5" text-anchor="start" textLength="17" lengthAdjust="spacingAndGlyphs">]</text>
</g>
</svg>
</body>
</html>
